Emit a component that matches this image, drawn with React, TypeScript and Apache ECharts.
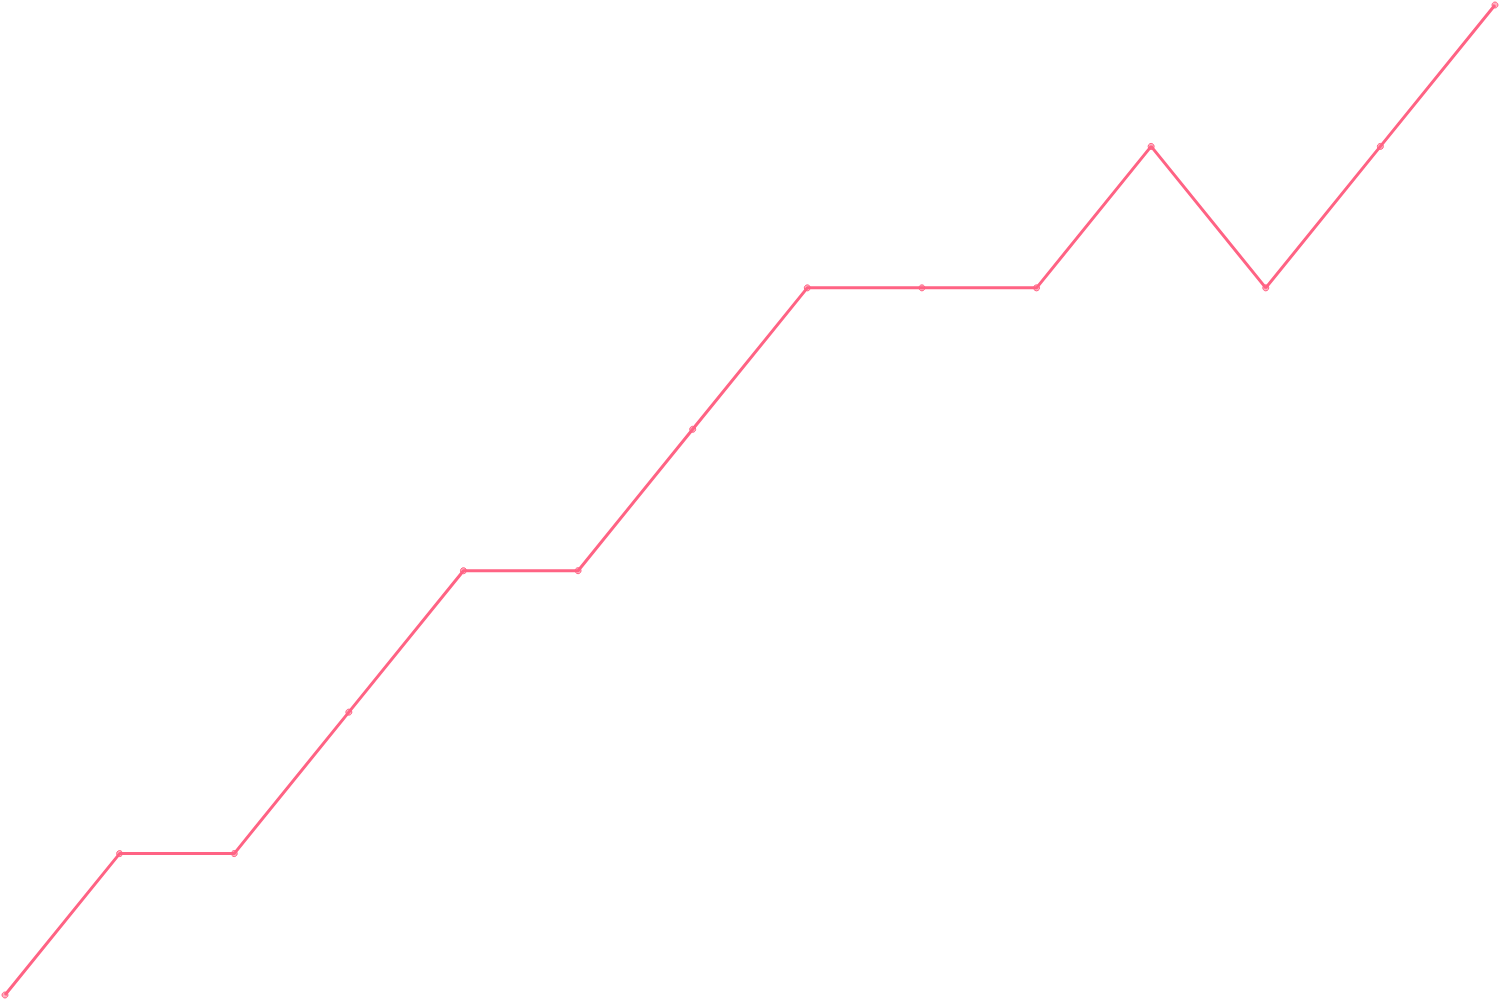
import { useEffect, useRef } from 'react';
import * as echarts from 'echarts';

const categories = ['1', '2', '3', '4', '5', '6', '7', '8', '9', '10', '11', '12', '13', '14'];
const values = [0, 1, 1, 2, 3, 3, 4, 5, 5, 5, 6, 5, 6, 7];

export default function App() {
  const chartRef = useRef<HTMLDivElement>(null);

  useEffect(() => {
    document.body.style.margin = '0';
    if (!chartRef.current) {
      return;
    }
    const chart = echarts.init(chartRef.current, null, { renderer: 'svg' });

    const option: echarts.EChartsOption = {
      animation: false,
      grid: { left: 5, right: 5, top: 5, bottom: 5 },
      xAxis: {
        type: 'category',
        data: categories,
        boundaryGap: false,
        show: false,
      },
      yAxis: {
        type: 'value',
        min: 0,
        max: 7,
        show: false,
      },
      series: [
        {
          type: 'line',
          data: values,
          symbol: 'circle',
          symbolSize: 6,
          showAllSymbol: true,
          lineStyle: { color: 'rgb(255, 99, 132)', width: 3 },
          itemStyle: {
            color: 'rgba(255, 99, 132, 0.5)',
            borderColor: 'rgb(255, 99, 132)',
            borderWidth: 1,
          },
        },
      ],
    };

    chart.setOption(option);
    return () => {
      chart.dispose();
    };
  }, []);

  return <div ref={chartRef} style={{ width: '1500px', height: '1000px' }} />;
}
